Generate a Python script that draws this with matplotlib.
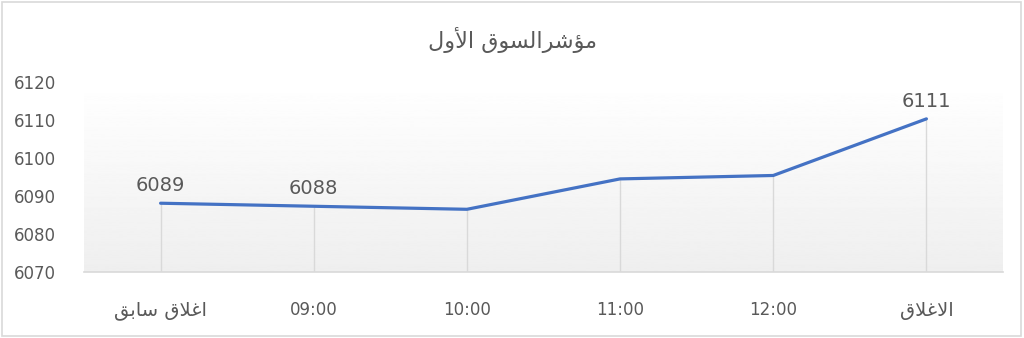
import numpy as np
import matplotlib
matplotlib.use('Agg')
import matplotlib.pyplot as plt
from matplotlib.patches import Rectangle

# chart data
title = "مؤشرالسوق الأول"
categories = ["اغلاق سابق", "09:00", "10:00", "11:00", "12:00", "الاغلاق"]
values = [6088.1, 6087.3, 6086.5, 6094.5, 6095.4, 6110.3]
point_labels = ["6089", "6088", "", "", "", "6111"]
yticks = [6070, 6080, 6090, 6100, 6110, 6120]

# minimal arabic shaping (matplotlib has no text shaping)
# letter: (isolated, final, initial, medial); None -> right-joining only
FORMS = {
    'ا': (0xFE8D, 0xFE8E, None, None),
    'أ': (0xFE83, 0xFE84, None, None),
    'ؤ': (0xFE85, 0xFE86, None, None),
    'ر': (0xFEAD, 0xFEAE, None, None),
    'و': (0xFEED, 0xFEEE, None, None),
    'م': (0xFEE1, 0xFEE2, 0xFEE3, 0xFEE4),
    'ش': (0xFEB5, 0xFEB6, 0xFEB7, 0xFEB8),
    'ل': (0xFEDD, 0xFEDE, 0xFEDF, 0xFEE0),
    'س': (0xFEB1, 0xFEB2, 0xFEB3, 0xFEB4),
    'ق': (0xFED5, 0xFED6, 0xFED7, 0xFED8),
    'غ': (0xFECD, 0xFECE, 0xFECF, 0xFED0),
    'ب': (0xFE8F, 0xFE90, 0xFE91, 0xFE92),
}
LAMALEF = {'ا': (0xFEFB, 0xFEFC), 'أ': (0xFEF7, 0xFEF8)}


def shape(text):
    if not any(c in FORMS for c in text):
        return text
    # merge lam + alef into ligature tokens
    toks = []
    i = 0
    while i < len(text):
        c = text[i]
        if c == 'ل' and i + 1 < len(text) and text[i + 1] in LAMALEF:
            toks.append(('LA', text[i + 1]))
            i += 2
        else:
            toks.append((c, None))
            i += 1

    def dual(t):
        return t[0] in FORMS and FORMS[t[0]][2] is not None

    def arabic(t):
        return t[0] == 'LA' or t[0] in FORMS

    out = []
    for k, t in enumerate(toks):
        prev_joins = k > 0 and dual(toks[k - 1])
        if t[0] == 'LA':
            iso, fin = LAMALEF[t[1]]
            out.append(chr(fin if prev_joins else iso))
            continue
        if t[0] not in FORMS:
            out.append(t[0])
            continue
        f = FORMS[t[0]]
        next_joins = dual(t) and k + 1 < len(toks) and arabic(toks[k + 1])
        if prev_joins and next_joins:
            out.append(chr(f[3]))
        elif prev_joins:
            out.append(chr(f[1]))
        elif next_joins:
            out.append(chr(f[2]))
        else:
            out.append(chr(f[0]))
    return ''.join(reversed(out))


txt = '#595959'
plt.rcParams['font.family'] = ['DejaVu Sans']

fig = plt.figure(figsize=(10.24, 3.38), dpi=100)
ax = fig.add_axes([84 / 1024, 1 - 272 / 338, (1003 - 84) / 1024, (272 - 82) / 338])

x = np.arange(len(categories))
ax.set_xlim(-0.5, len(categories) - 0.5)
ax.set_ylim(yticks[0], yticks[-1])

# gradient plot area
grad = np.linspace(1.0, 0.935, 256).reshape(-1, 1)
ax.imshow(grad, cmap='gray', vmin=0, vmax=1, aspect='auto',
          extent=[-0.5, len(categories) - 0.5, yticks[0], yticks[-1]], zorder=0)

ax.vlines(x, yticks[0], values, color='#d9d9d9', lw=1.0, zorder=1)
ax.plot(x, values, color='#4472C4', lw=2.3, solid_capstyle='round', zorder=3)

for xi, v, lab in zip(x, values, point_labels):
    if lab:
        ax.annotate(lab, (xi, v), xytext=(0, 6),
                    textcoords='offset points', ha='center', va='bottom',
                    fontsize=14, color=txt)

for s in ['top', 'right', 'left']:
    ax.spines[s].set_visible(False)
ax.spines['bottom'].set_color('#d9d9d9')
ax.spines['bottom'].set_linewidth(1.2)

ax.set_xticks(x)
ax.set_xticklabels([shape(c) for c in categories], fontsize=12, color=txt)
for t in ax.get_xticklabels():
    if not t.get_text()[0].isdigit():
        t.set_fontsize(14)
ax.set_yticks(yticks)
ax.set_yticklabels([str(v) for v in yticks], fontsize=12, color=txt)
ax.tick_params(axis='x', length=0, pad=21)
ax.tick_params(axis='y', length=0, pad=20)

fig.text(0.5, 1 - 40 / 338, shape(title), ha='center', va='center',
         fontsize=16, color=txt)

fig.patches.append(Rectangle((2 / 1024, 2 / 338), 1019 / 1024, 334 / 338,
                             transform=fig.transFigure, fill=False,
                             edgecolor='#d9d9d9', lw=1.2))

fig.savefig('out.png', dpi=100)
